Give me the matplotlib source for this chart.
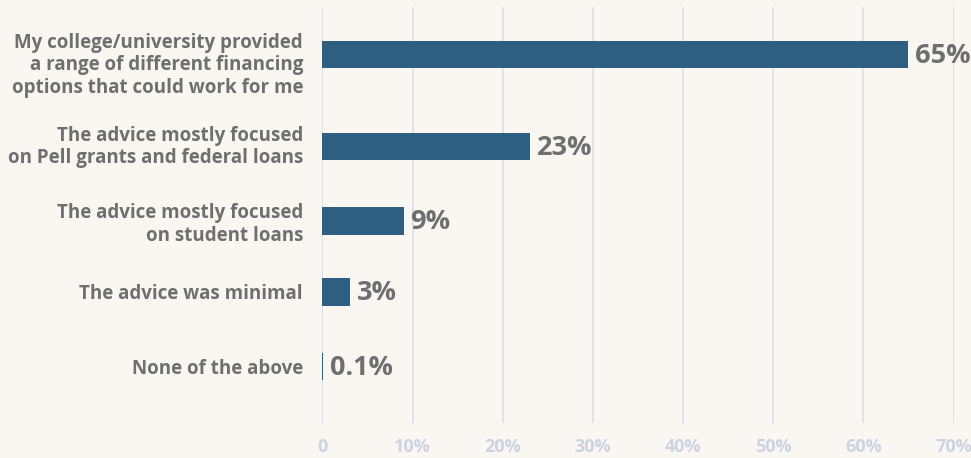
import matplotlib.pyplot as plt
import numpy as np

plt.rcParams['font.family'] = ['Open Sans', 'DejaVu Sans']
plt.rcParams['font.weight'] = 'bold'

answers = [
    'My college/university provided\na range of different financing\noptions that could work for me',
    'The advice mostly focused\non Pell grants and federal loans',
    'The advice mostly focused\non student loans',
    'The advice was minimal',
    'None of the above',
]
shares = [65, 23, 9, 3, 0.1]
share_labels = ['65%', '23%', '9%', '3%', '0.1%']
x_ticks = [0, 10, 20, 30, 40, 50, 60, 70]
x_tick_labels = ['0', '10%', '20%', '30%', '40%', '50%', '60%', '70%']

bg = '#faf7f3'
bar_color = '#2f5f80'
text_gray = '#6f6f6f'
axis_gray = '#cdd3e0'
grid_color = '#dadee7'

# rows are spaced a bit wider after the three-line label
row_gap = [1.18, 0.95, 0.91, 0.96]
rows = np.concatenate([[0], np.cumsum(row_gap)])
# multi-line labels sit a little off their bar
label_shift = np.array([0.09, -0.045, 0, 0, 0])

fig = plt.figure(figsize=(9.71, 4.58), dpi=100, facecolor=bg)
ax = fig.add_axes([0.3321, 0.0764, 0.6499, 0.9083], facecolor=bg)

ax.barh(rows, shares, height=0.35, color=bar_color, zorder=3)

for y, val, lab in zip(rows, shares, share_labels):
    ax.annotate(lab, xy=(val, y), xytext=(5, -1), textcoords='offset points',
                ha='left', va='center', fontsize=19.5, fontweight='bold',
                color=text_gray, zorder=4)

ax.set_xlim(0, 70)
ax.set_ylim(4.72, -0.61)
ax.set_xticks(x_ticks)
ax.set_xticklabels(x_tick_labels, fontsize=13, fontweight='bold', color=axis_gray)
ax.set_yticks(rows + label_shift)
ax.set_yticklabels(answers, fontsize=13.5, fontweight='bold', color=text_gray,
                   linespacing=1.17)
ax.tick_params(axis='both', length=0)
ax.tick_params(axis='x', pad=11)
ax.tick_params(axis='y', pad=14)

ax.grid(axis='x', color=grid_color, linewidth=1.2, zorder=0)
ax.grid(axis='y', visible=False)
for s in ax.spines.values():
    s.set_visible(False)

fig.savefig('out.png', dpi=100, facecolor=bg)
